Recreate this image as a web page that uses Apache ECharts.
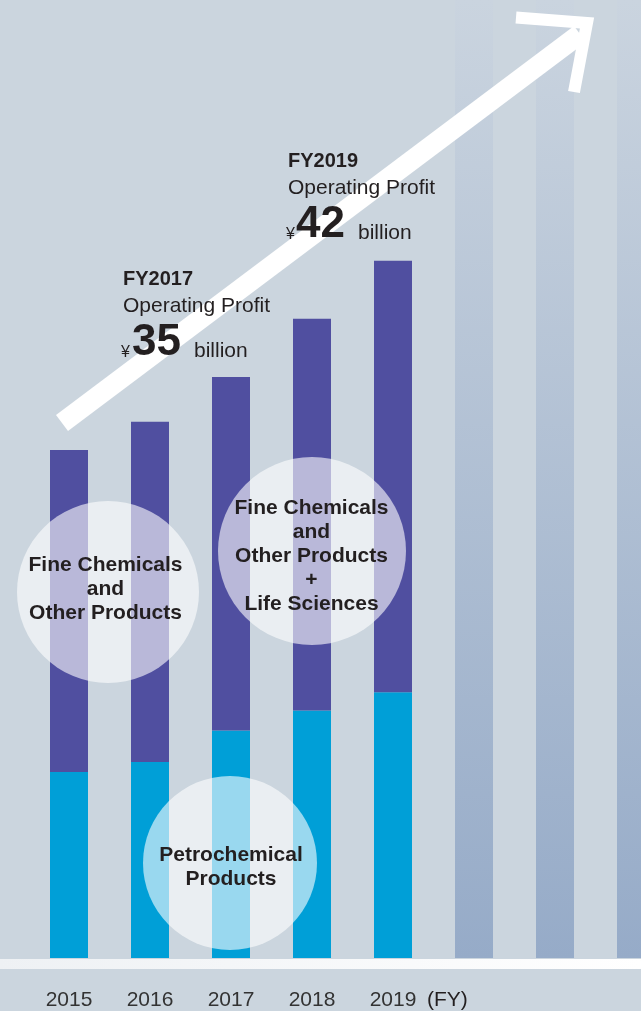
<!DOCTYPE html>
<html>
<head>
<meta charset="utf-8">
<title>Operating Profit</title>
<script src="https://cdn.jsdelivr.net/npm/echarts@6/dist/echarts.min.js"></script>
<style>
  html, body { margin: 0; padding: 0; background: #cbd5de; }
  #chart { width: 641px; height: 1011px; }
</style>
</head>
<body>
<div id="chart"></div>
<script>
// fiscal years, the last three slots are the unlabeled "future" bars
var years = ['2015', '2016', '2017', '2018', '2019', '', '', ''];
// operating profit split (billion yen)
var petrochemical = [11.2, 11.8, 13.7, 14.9, 16.0, '-', '-', '-'];
var fineChemicals = [19.4, 20.5, 21.3, 23.6, 26.0, '-', '-', '-'];
var yMax = 57.7;
var future = ['-', '-', '-', '-', '-', yMax, yMax, yMax];

var font = '"Liberation Sans", Arial, sans-serif';
var ink = '#231f20';

var chart = echarts.init(document.getElementById('chart'), null, { renderer: 'canvas' });

// translucent bubbles over the bars
function bubble(cx, cy, r) {
  return {
    type: 'circle', z: 100,
    shape: { cx: cx, cy: cy, r: r },
    style: { fill: 'rgba(255,255,255,0.6)' }
  };
}
function label(x, y, txt, size, weight, align) {
  return {
    type: 'text', z: 120, x: x, y: y,
    style: {
      text: txt, fill: ink, font: (weight || 'normal') + ' ' + size + 'px ' + font,
      textAlign: align || 'left', textVerticalAlign: 'middle', lineHeight: 24
    }
  };
}

var option = {
  backgroundColor: '#cbd5de',
  animation: false,
  // grid runs past the right edge so the last bar is cut off
  grid: { left: 28.5, width: 648, top: 0, bottom: 53, outerBoundsMode: 'none' },
  xAxis: {
    type: 'category',
    data: years,
    axisLine: { show: false },
    axisTick: { show: false },
    axisLabel: { margin: 32, color: '#333', fontSize: 21, fontFamily: font }
  },
  yAxis: {
    type: 'value', min: 0, max: yMax, show: false,
    splitLine: { show: false }
  },
  series: [
    {
      name: 'Petrochemical Products', type: 'bar', stack: 'op', barWidth: 38,
      itemStyle: { color: '#009fd7' }, data: petrochemical
    },
    {
      name: 'Fine Chemicals and Other Products', type: 'bar', stack: 'op', barWidth: 38,
      itemStyle: { color: '#504fa0' }, data: fineChemicals
    },
    {
      name: 'future', type: 'bar', stack: 'op', barWidth: 38,
      itemStyle: {
        color: new echarts.graphic.LinearGradient(0, 0, 0, 1, [
          { offset: 0, color: '#cad4df' },
          { offset: 1, color: '#96abc8' }
        ])
      },
      data: future
    }
  ],
  graphic: [
    // white base line
    {
      type: 'rect', z: 90, shape: { x: 0, y: 959, width: 641, height: 10 },
      style: {
        fill: new echarts.graphic.LinearGradient(0, 0, 1, 0, [
          { offset: 0, color: '#eef1f4' },
          { offset: 1, color: '#ffffff' }
        ])
      }
    },
    // growth arrow
    {
      type: 'polyline', z: 110,
      shape: { points: [[62, 423], [580, 34]] },
      style: { stroke: '#fff', lineWidth: 20, lineCap: 'butt', fill: null }
    },
    {
      type: 'polyline', z: 110,
      shape: { points: [[516, 17.5], [587, 23], [574, 92]] },
      style: { stroke: '#fff', lineWidth: 12, lineJoin: 'miter', lineCap: 'butt', fill: null }
    },
    bubble(108, 592, 91),
    bubble(312, 551, 94),
    bubble(230, 863, 87),
    label(105.5, 589, 'Fine Chemicals\nand\nOther Products', 21, 'bold', 'center'),
    label(311.5, 556.5, 'Fine Chemicals\nand\nOther Products\n+\nLife Sciences', 21, 'bold', 'center'),
    label(231, 867.5, 'Petrochemical\nProducts', 21, 'bold', 'center'),
    // FY2017 callout
    label(123, 279, 'FY2017', 20, 'bold'),
    label(123, 306, 'Operating Profit', 21),
    label(121, 353, '¥', 16),
    label(132, 342.5, '35', 44, 'bold'),
    label(194, 351.5, 'billion', 21),
    // FY2019 callout
    label(288, 161.5, 'FY2019', 20, 'bold'),
    label(288, 188, 'Operating Profit', 21),
    label(286, 235, '¥', 16),
    label(296, 225, '42', 44, 'bold'),
    label(358, 233.5, 'billion', 21),
    label(427, 1000.5, '(FY)', 21)
  ]
};

chart.setOption(option);
</script>
</body>
</html>
